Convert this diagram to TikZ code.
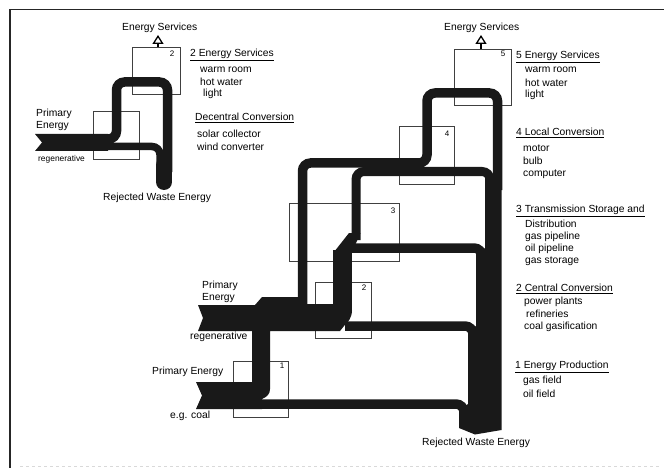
\documentclass[tikz,border=0pt]{standalone}
\usepackage{fontspec}
\setmainfont{Liberation Sans}
\usetikzlibrary{arrows.meta,positioning}
\tikzset{
  flow/.style={line width=9.5pt, draw=black!90, rounded corners=8pt},
  flowfill/.style={fill=black!90},
  stagebox/.style={draw=black!75, line width=0.9pt, inner sep=0pt},
  numlabel/.style={font=\fontsize{8}{9}\selectfont, inner sep=0pt},
  txt/.style={anchor=west, inner sep=0pt, font=\fontsize{10.3}{12}\selectfont},
  small/.style={anchor=west, inner sep=0pt, font=\fontsize{8.4}{9}\selectfont},
  outarrow/.style={line width=2.6pt, -{Triangle[open, length=9pt, width=11pt, line width=1.3pt]}}
}
\begin{document}
\begin{tikzpicture}[x=1pt, y=-1pt]
    \useasboundingbox (0,0) rectangle (664,468);
    % frame
    \draw[line width=1.6pt, black!85] (10,468) -- (10,9.5) -- (664,9.5);
    \draw[line width=0.5pt, black!15, dashed] (20,466) -- (660,466);

    % boxes
    \node[stagebox, minimum width=48pt, minimum height=47pt] (leftbox2) at (156,70.5) {};
    \node[stagebox, minimum width=46pt, minimum height=48pt] (leftbox1) at (116,135) {};
    \node[stagebox, minimum width=57pt, minimum height=56pt] (box5) at (482.5,77) {};
    \node[stagebox, minimum width=55pt, minimum height=58pt] (box4) at (426.5,155) {};
    \node[stagebox, minimum width=110pt, minimum height=58pt] (box3) at (344,232) {};
    \node[stagebox, minimum width=56pt, minimum height=56pt] (box2) at (343,310) {};
    \node[stagebox, minimum width=55pt, minimum height=56pt] (box1) at (260.5,389) {};

    % numbers
    \node[numlabel] (numl) at (172,54) {2};
    \node[numlabel] (num5) at (503,54) {5};
    \node[numlabel] (num4) at (447,134) {4};
    \node[numlabel] (num3) at (393,211) {3};
    \node[numlabel] (num2) at (364,288) {2};
    \node[numlabel] (num1) at (282,366) {1};

    % left flows
    \draw[flow] (80,139) -- (116.5,139) -- (116.5,82) -- (167.5,82) -- (167.5,172);
    \draw[flow, line width=7.5pt] (80,146.5) -- (160,146.5) -- (160,172);
    \fill[flowfill] (35,134) -- (108,134) -- (108,151) -- (35,151) -- (42,142.5) -- cycle;
    \draw[line width=16pt, line cap=round, black!90] (164,165) -- (164,182);

    % right flows
    \draw[flow] (302.5,310) -- (302.5,163) -- (427,163) -- (427,93) -- (497.5,93) -- (497.5,190);
    \draw[flow, line width=9pt] (356,240) -- (356,171.5) -- (490,171.5) -- (490,190);
    \draw[flow] (345,248) -- (482,248) -- (482,265);
    \draw[flow] (345,326) -- (473,326) -- (473,342);
    \draw[flow] (255,404) -- (464,404) -- (464,420);
    \fill[flowfill] (334,252) -- (349,233) -- (360.5,233) -- (352,252) -- cycle;
    \draw[line width=18.5pt, black!90] (342.7,250) -- (342.7,312);
    \fill[flowfill] (333.5,310) -- (352,310) .. controls (352,318) and (348,322) .. (344,326) -- (340,331) -- (270,331) -- (270,389)
       .. controls (270,394) and (267,397) .. (262,399) -- (262,409) -- (196,409) -- (202,395.5) -- (196,382) -- (252,382)
       -- (252,331) -- (198,331) -- (203,318) -- (198,305) -- (255,305) -- (262,297) -- (298,297) -- (300,304) -- (333.5,304) -- cycle;
    \fill[flowfill] (485,175) -- (501.5,175) -- (501.5,430) -- (475,434.5) -- (459,428) -- (459,410) -- (468,404)
       -- (468,331) -- (476,326) -- (476,254) -- (485,248) -- cycle;

    % arrows to energy services
    \node[txt] (svcl) at (122,28) {Energy Services};
    \node[txt] (svcr) at (444,28) {Energy Services};
    \coordinate (svclend) at (158,35);
    \coordinate (svcrend) at (481,35);
    \draw[outarrow] (leftbox2.north -| svclend) -- (svclend);
    \draw[outarrow] (box5.north -| svcrend) -- (svcrend);

    % left texts
    \node[txt] (ltitle2) at (190,55) {\underline{2 Energy Services}};
    \node[txt] (litem1) at (200,70) {warm room};
    \node[txt] (litem2) at (200,82) {hot water};
    \node[txt] (litem3) at (203,94) {light};
    \node[txt] (ltitle1) at (195,118) {\underline{Decentral Conversion}};
    \node[txt] (litem4) at (197,134) {solar collector};
    \node[txt] (litem5) at (197,147) {wind converter};
    \node[txt] (lprim) at (36,114) {Primary};
    \node[txt] (lener) at (36,126) {Energy};
    \node[small] (lregen) at (38,159) {regenerative};
    \node[txt] (lwaste) at (103,198) {Rejected Waste Energy};

    % right texts
    \node[txt] (title5) at (516,57) {\underline{5 Energy Services}};
    \node[txt] (item51) at (525,70) {warm room};
    \node[txt] (item52) at (525,83) {hot water};
    \node[txt] (item53) at (525,95) {light};
    \node[txt] (title4) at (516,133) {\underline{4 Local Conversion}};
    \node[txt] (item41) at (523,148) {motor};
    \node[txt] (item42) at (523,161) {bulb};
    \node[txt] (item43) at (523,174) {computer};
    \node[txt] (title3) at (516,211) {\underline{3 Transmission Storage and}};
    \node[txt] (item31) at (525,224) {Distribution};
    \node[txt] (item32) at (525,237) {gas pipeline};
    \node[txt] (item33) at (525,249) {oil pipeline};
    \node[txt] (item34) at (525,261) {gas storage};
    \node[txt] (title2) at (516,289) {\underline{2 Central Conversion}};
    \node[txt] (item21) at (524,302) {power plants};
    \node[txt] (item22) at (526,314) {refineries};
    \node[txt] (item23) at (524,327) {coal gasification};
    \node[txt] (title1) at (515,367) {\underline{1 Energy Production}};
    \node[txt] (item11) at (523,381) {gas field};
    \node[txt] (item12) at (523,394) {oil field};

    \node[txt] (prim) at (202,286) {Primary};
    \node[txt] (ener) at (202,298) {Energy};
    \node[txt] (regen) at (190,337) {regenerative};
    \node[txt] (prim2) at (152,372) {Primary Energy};
    \node[txt] (coal) at (170,416) {e.g. coal};
    \node[txt] (waste) at (422,443) {Rejected Waste Energy};
\end{tikzpicture}
\end{document}
